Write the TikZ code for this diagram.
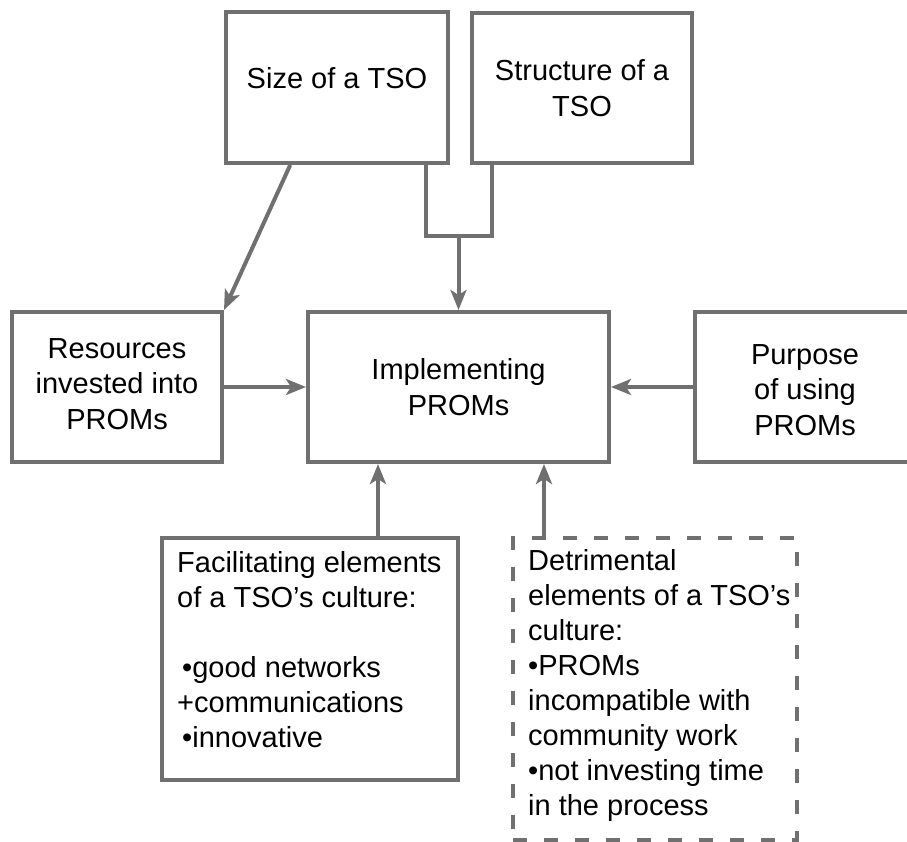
\documentclass[tikz,border=0pt]{standalone}
\usepackage{fontspec}
\setmainfont{Liberation Sans}
\usetikzlibrary{arrows.meta,calc}
\definecolor{edge}{RGB}{112,112,112}
\begin{document}
\begin{tikzpicture}[x=1pt,y=-1pt,
  box/.style={draw=edge, line width=4pt, rectangle, inner sep=0pt},
  dbox/.style={box, dash pattern=on 14pt off 17pt},
  lbl/.style={font=\fontsize{29}{35.5}\selectfont, align=center, inner sep=0pt},
  lbll/.style={font=\fontsize{29}{35}\selectfont, align=left, inner sep=0pt, anchor=north west},
  wire/.style={draw=edge, line width=4pt},
  conn/.style={wire, -{Stealth[length=20pt,width=16pt,inset=5pt]}}]
\useasboundingbox (0,0) rectangle (907,841);

% boxes
\node[box, minimum width=222pt, minimum height=151pt] (size)   at (337,87.5) {};
\node[box, minimum width=220pt, minimum height=150pt] (struct) at (582,88)   {};
\node[box, minimum width=210pt, minimum height=150pt] (res)    at (117,387)  {};
\node[box, minimum width=301pt, minimum height=150pt] (main)   at (458.5,387){};
\node[box, minimum width=220pt, minimum height=150pt] (purp)   at (805,387)  {};
\node[box, minimum width=296pt, minimum height=242pt] (fac)    at (310,659)  {};
\node[dbox, minimum width=284pt, minimum height=302pt] (det)   at (655,689)  {};

% labels
\node[lbl] (sizet)   at (337,78)  {Size of a TSO};
\node[lbl] (structt) at (582,88)  {Structure of a\\TSO};
\node[lbl] (rest)    at (117,384) {Resources\\invested into\\PROMs};
\node[lbl] (maint)   at (458.5,387) {Implementing\\PROMs};
\node[lbl] (purpt)   at (805,390) {Purpose\\of using\\PROMs};
\node[lbll] (fact) at (177,551) {Facilitating elements\\of a TSO’s culture:\\[35pt]
  \hspace{5pt}•good networks\\+communications\\\hspace{5pt}•innovative};
\node[lbll] (dett) at (528,549) {Detrimental\\elements of a TSO’s\\culture:\\•PROMs\\
  incompatible with\\community work\\•not investing time\\in the process};

% connectors
\coordinate (sizeout) at ($(size.south west)!0.293!(size.south east)$);
\draw[conn] (sizeout) -- (res.north east);

\coordinate (sizeb) at ($(size.south west)!0.892!(size.south east)$);
\coordinate (structb) at ($(struct.south west)!0.1!(struct.south east)$);
\coordinate (join) at ($(main.north)+(0,-74)$);
\draw[wire] (sizeb) -- (sizeb |- join) -- (structb |- join) -- (structb);
\draw[conn] (join) -- (main.north);

\draw[conn] (res.east) -- (main.west);
\draw[conn] (purp.west) -- (main.east);

\coordinate (facout) at ($(fac.north west)+(218,0)$);
\draw[conn] (facout) -- (facout |- main.south);
\coordinate (detout) at ($(det.north west)+(33,0)$);
\draw[conn] (detout) -- (detout |- main.south);
\end{tikzpicture}
\end{document}
